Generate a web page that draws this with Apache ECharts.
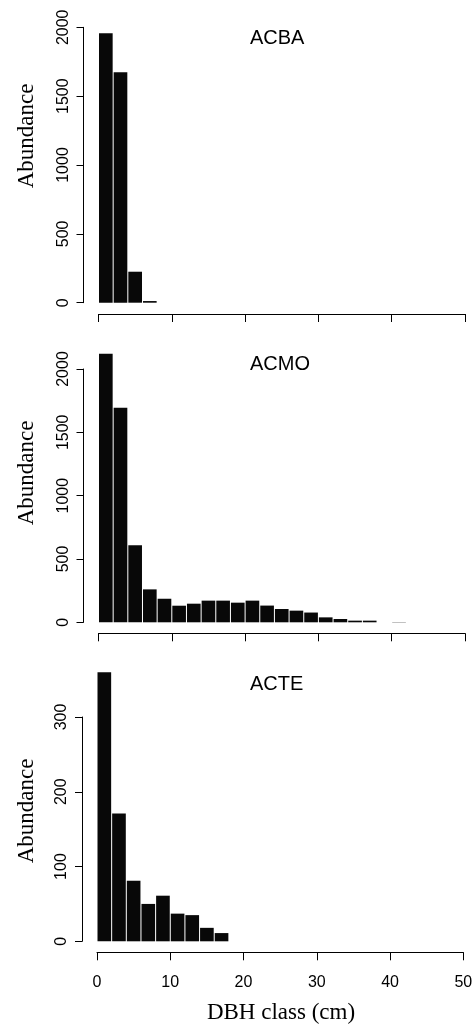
<!DOCTYPE html>
<html>
<head>
<meta charset="utf-8">
<script src="https://cdn.jsdelivr.net/npm/echarts@6/dist/echarts.min.js"></script>
<style>html,body{margin:0;padding:0;background:#fff}#c{width:473px;height:1027px}</style>
</head>
<body>
<div id="c"></div>
<script>
// DBH class bins (cm): each bar covers [start, start + binWidth]
const binWidth = 2;
const acbaStarts = [0, 2, 4, 6];
const acbaValues = [1957, 1674, 225, 12];
const acmoStarts = [0, 2, 4, 6, 8, 10, 12, 14, 16, 18, 20, 22, 24, 26, 28, 30, 32, 34, 36, 38, 40];
const acmoValues = [2121, 1694, 608, 260, 186, 131, 147, 171, 171, 155, 171, 132, 105, 92, 77, 39, 26, 13, 13, 0, 2];
const acteStarts = [0, 2, 4, 6, 8, 10, 12, 14, 16];
const acteValues = [360, 171, 81, 50, 61, 37, 35, 18, 11];
const panelNames = ['ACBA', 'ACMO', 'ACTE'];
const yMax = [2000, 2000, 300];
const yStep = [500, 500, 100];

const panels = [
  {starts: acbaStarts, values: acbaValues, left: 98.5, top: 27.3, height: 275.4, width: 366.5, xOff: 11.3},
  {starts: acmoStarts, values: acmoValues, left: 98.5, top: 369, height: 253.3, width: 366.5, xOff: 11},
  {starts: acteStarts, values: acteValues, left: 97, top: 717, height: 224.3, width: 366.3, xOff: 11}
];

const chart = echarts.init(document.getElementById('c'), null, {renderer: 'canvas'});
const grids = [], xAxes = [], yAxes = [], series = [];
const axisCol = '#000';
panels.forEach((p, i) => {
  grids.push({left: p.left, top: p.top, width: p.width, height: p.height, containLabel: false, outerBoundsMode: 'none'});
  xAxes.push({
    type: 'value', gridIndex: i, min: 0, max: 50, interval: 10, offset: p.xOff, position: 'bottom',
    axisLine: {show: true, onZero: false, lineStyle: {color: axisCol, width: 1}},
    axisTick: {show: true, length: 8, lineStyle: {color: axisCol, width: 1}},
    axisLabel: {show: i === 2, margin: 22, fontSize: 16, color: '#000', fontFamily: 'Liberation Sans',
      formatter: v => String(v)},
    splitLine: {show: false}
  });
  yAxes.push({
    type: 'value', gridIndex: i, min: 0, max: yMax[i], interval: yStep[i], offset: 15, position: 'left',
    axisLine: {show: true, onZero: false, lineStyle: {color: axisCol, width: 1}},
    axisTick: {show: true, length: 7, lineStyle: {color: axisCol, width: 1}},
    axisLabel: {show: true, rotate: 90, margin: 12, fontSize: 16, color: '#000', fontFamily: 'Liberation Sans',
      formatter: v => String(v)},
    splitLine: {show: false}
  });
  series.push({
    type: 'custom', xAxisIndex: i, yAxisIndex: i, clip: false,
    data: p.starts.map((s, k) => [s, s + binWidth, p.values[k]]),
    renderItem: function (params, api) {
      const a = api.coord([api.value(0), 0]);
      const b = api.coord([api.value(1), api.value(2)]);
      const h = a[1] - b[1];
      if (h <= 0) return null;
      return {
        type: 'rect',
        shape: {x: a[0] + 0.5, y: b[1], width: b[0] - a[0] - 1, height: h},
        style: {fill: '#080808'}
      };
    },
    silent: true
  });
});

const titleY = [39.2, 365.5, 685.5];
const abY = [136, 473, 811];
const graphics = [];
panelNames.forEach((n, i) => {
  graphics.push({type: 'text', left: 250, top: titleY[i] - 11, style: {text: n, font: '20px "Liberation Sans"', fill: '#000'}});
  graphics.push({type: 'text', x: 27, y: abY[i], rotation: Math.PI / 2,
    style: {text: 'Abundance', font: '23px "Liberation Serif"', fill: '#000', align: 'center', verticalAlign: 'middle'}});
});
graphics.push({type: 'text', x: 281, y: 1013, style: {text: 'DBH class (cm)', font: '23px "Liberation Serif"', fill: '#000', align: 'center', verticalAlign: 'middle'}});

chart.setOption({
  animation: false,
  backgroundColor: '#fff',
  grid: grids, xAxis: xAxes, yAxis: yAxes, series: series,
  graphic: graphics
});
</script>
</body>
</html>
